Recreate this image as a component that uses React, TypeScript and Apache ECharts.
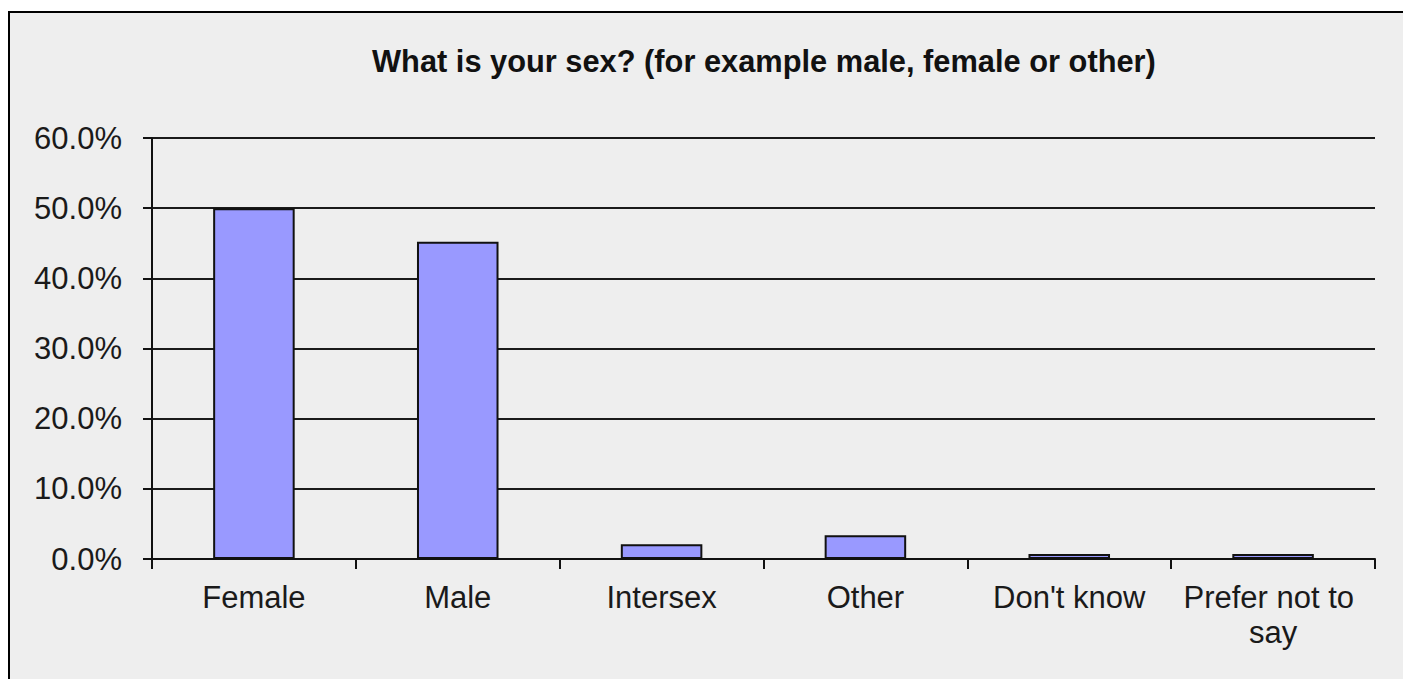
import React, { useEffect, useRef } from "react";
import * as echarts from "echarts";

const categories = ["Female", "Male", "Intersex", "Other", "Don't know", "Prefer not to say"];
const values = [50.0, 45.2, 2.1, 3.4, 0.7, 0.7];
const yMin = 0;
const yMax = 60;
const yInterval = 10;
const titleText = "What is your sex? (for example male, female or other)";

export default function App() {
  const ref = useRef<HTMLDivElement>(null);
  useEffect(() => {
    if (!ref.current) return;
    const chart = echarts.init(ref.current, undefined, { renderer: "svg" });
    chart.setOption({
      animation: false,
      backgroundColor: "#eeeeee",
      title: {
        text: titleText,
        left: 357,
        top: 28,
        textStyle: {
          fontFamily: "Liberation Sans, Arial, sans-serif",
          fontWeight: "bold",
          fontSize: 30.8,
          color: "#111",
        },
      },
      grid: { left: 142, top: 125, width: 1223, height: 421, containLabel: false },
      xAxis: {
        type: "category",
        data: categories,
        boundaryGap: true,
        axisLine: { show: true, lineStyle: { color: "#111", width: 2 } },
        axisTick: { show: true, length: 10, alignWithLabel: false, lineStyle: { color: "#111", width: 2 } },
        axisLabel: {
          interval: 0,
          margin: 21,
          fontFamily: "Liberation Sans, Arial, sans-serif",
          fontSize: 31,
          lineHeight: 35,
          color: "#1a1a1a",
          width: 195,
          overflow: "break",
        },
        splitLine: { show: false },
      },
      yAxis: {
        type: "value",
        min: yMin,
        max: yMax,
        interval: yInterval,
        axisLine: { show: true, lineStyle: { color: "#111", width: 2 } },
        axisTick: { show: true, length: 9, lineStyle: { color: "#111", width: 2 } },
        axisLabel: {
          margin: 30,
          fontFamily: "Liberation Sans, Arial, sans-serif",
          fontSize: 31,
          color: "#1a1a1a",
          formatter: (v: number) => v.toFixed(1) + "%",
        },
        splitLine: { show: true, lineStyle: { color: "#1a1a1a", width: 2 } },
      },
      series: [
        {
          type: "bar",
          data: values,
          barCategoryGap: "60%",
          itemStyle: { color: "#9999ff", borderColor: "#111", borderWidth: 2 },
        },
      ],
    });
    return () => chart.dispose();
  }, []);
  return (
    <div
      style={{
        position: "absolute",
        left: 8,
        top: 11,
        width: 1395,
        height: 668,
        boxSizing: "border-box",
        borderLeft: "2px solid #000",
        borderTop: "2px solid #000",
        background: "#eeeeee",
      }}
    >
      <div ref={ref} style={{ width: 1393, height: 666 }} />
    </div>
  );
}
